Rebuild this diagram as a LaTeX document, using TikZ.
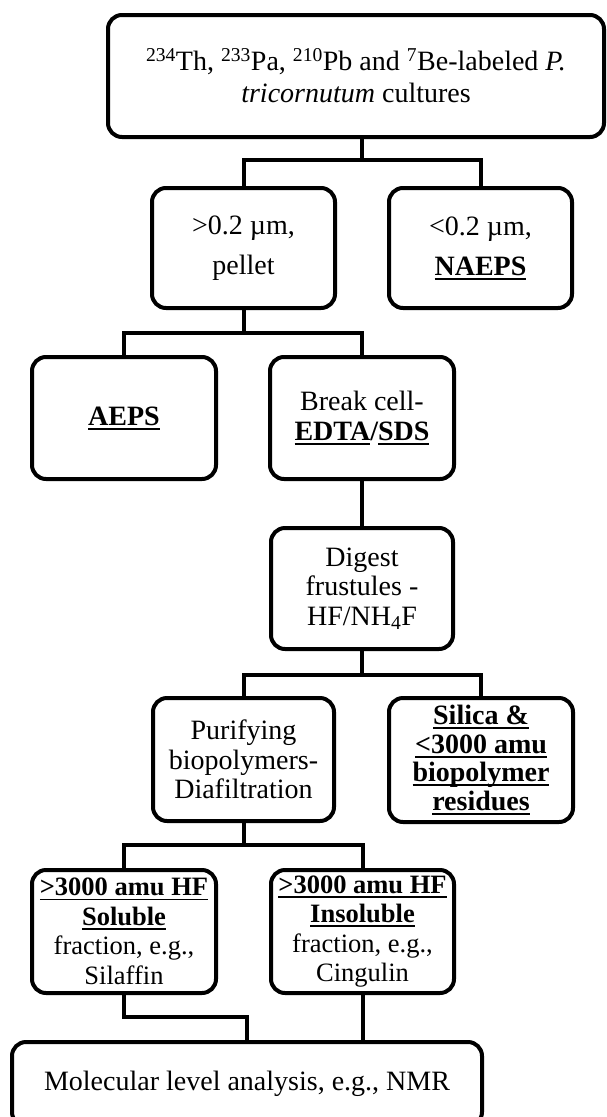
\documentclass[tikz,border=0pt]{standalone}
\usepackage{fontspec}
\setmainfont{Liberation Serif}
\newcommand\uln[1]{\setbox0\hbox{#1}\rlap{\rule[-4.5pt]{\wd0}{1.8pt}}\box0}
\tikzset{
  box/.style={draw=black, line width=4pt, rounded corners=14pt, align=center,
    inner sep=1pt, outer sep=0pt, font=\fontsize{28}{29.5}\selectfont},
  conn/.style={draw=black, line width=4pt},
}
\begin{document}
\begin{tikzpicture}[x=1pt,y=-1pt]
\useasboundingbox (0,0) rectangle (607,1117);
\clip (0,0) rectangle (607,1117);
\fill[white] (0,0) rectangle (607,1117);

\node[box, minimum width=496pt, minimum height=122pt, font=\fontsize{28}{32}\selectfont] (top) at (356,76)
  {\textsuperscript{234}Th, \textsuperscript{233}Pa, \textsuperscript{210}Pb and \textsuperscript{7}Be-labeled \textit{P.}\\\textit{tricornutum} cultures};
\node[box, minimum width=183pt, minimum height=120pt, font=\fontsize{28}{40}\selectfont] (pellet) at (243.5,248)
  {>0.2 µm,\\pellet};
\node[box, minimum width=183pt, minimum height=120pt, font=\fontsize{28}{40}\selectfont] (naeps) at (480.5,248)
  {<0.2 µm,\\\textbf{\uln{NAEPS}}};
\node[box, minimum width=184pt, minimum height=122pt] (aeps) at (124,418)
  {\textbf{\uln{AEPS}}};
\node[box, minimum width=184pt, minimum height=122pt] (break) at (362,418)
  {Break cell-\\\textbf{\uln{EDTA}/\uln{SDS}}};
\node[box, minimum width=182pt, minimum height=121pt] (digest) at (362,588.5)
  {Digest\\frustules -\\HF/NH\textsubscript{4}F};
\node[box, minimum width=181pt, minimum height=123pt] (purify) at (243.5,759.5)
  {Purifying\\biopolymers-\\Diafiltration};
\node[box, minimum width=184pt, minimum height=124pt, font=\fontsize{28}{28.5}\selectfont\bfseries] (silica) at (481,760)
  {\uln{Silica \&}\\\uln{<3000 amu}\\\uln{biopolymer}\\\uln{residues}};
\node[box, minimum width=184pt, minimum height=123pt, font=\fontsize{26.5}{29.5}\selectfont] (soluble) at (124,931.5)
  {\textbf{\uln{>3000 amu HF}}\\\textbf{\uln{Soluble}}\\fraction, e.g.,\\Silaffin};
\node[box, minimum width=183pt, minimum height=123pt, font=\fontsize{26.5}{29.5}\selectfont] (insoluble) at (362.5,931.5)
  {\textbf{\uln{>3000 amu HF}}\\\textbf{\uln{Insoluble}}\\fraction, e.g.,\\Cingulin};
\node[box, minimum width=470pt, minimum height=84pt] (molecular) at (247,1084)
  {Molecular level analysis, e.g., NMR};
\coordinate (m1) at (247,1042);

\draw[conn] (top.south -| break) -- ++(0,23) coordinate (j1) -| (pellet.north);
\draw[conn] (j1) -| (naeps.north);
\draw[conn] (pellet.south) -- ++(0,25) coordinate (j2) -| (aeps.north);
\draw[conn] (j2) -| (break.north);
\draw[conn] (break.south) -- (digest.north);
\draw[conn] (digest.south) -- ++(0,26) coordinate (j3) -| (purify.north);
\draw[conn] (j3) -| (silica.north);
\draw[conn] (purify.south) -- ++(0,24) coordinate (j4) -| (soluble.north);
\draw[conn] (j4) -| (insoluble.north);
\draw[conn] (soluble.south) -- ++(0,24) -| (m1);
\draw[conn] (insoluble.south) -- (insoluble.south |- molecular.north);
\end{tikzpicture}
\end{document}
